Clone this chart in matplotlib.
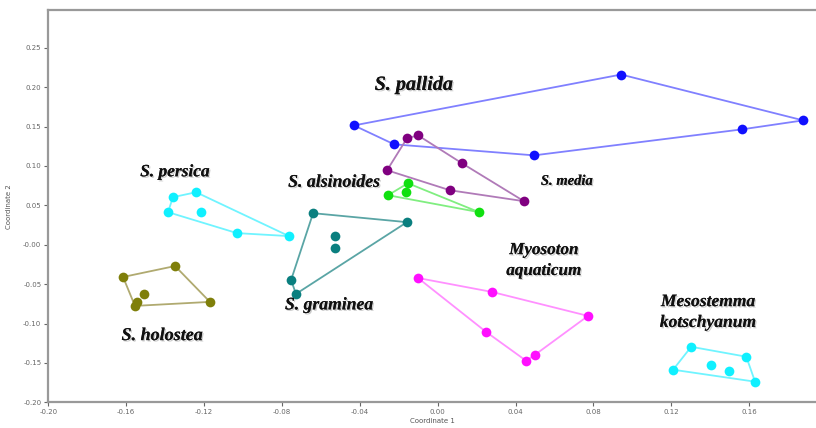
import matplotlib
matplotlib.use("Agg")
import matplotlib.pyplot as plt
import matplotlib.patheffects as pe
import numpy as np

# ---- data (Coordinate 1, Coordinate 2) ----
pallida_x = [-0.0430, 0.0942, 0.1877, 0.1563, 0.0495, -0.0224]
pallida_y = [0.1515, 0.2161, 0.1579, 0.1465, 0.1135, 0.1275]

media_x = [-0.0260, -0.0158, -0.0101, 0.0125, 0.0443, 0.0063]
media_y = [0.0946, 0.1351, 0.1389, 0.1034, 0.0553, 0.0692]

alsinoides_x = [-0.0255, -0.0153, 0.0212, -0.0163]
alsinoides_y = [0.0629, 0.0781, 0.0414, 0.0667]

persica_x = [-0.1360, -0.1241, -0.0764, -0.1031, -0.1385, -0.1216]
persica_y = [0.0604, 0.0667, 0.0110, 0.0148, 0.0414, 0.0414]

graminea_x = [-0.0640, -0.0158, -0.0728, -0.0753, -0.0527, -0.0527]
graminea_y = [0.0401, 0.0287, -0.0624, -0.0447, 0.0110, -0.0042]

holostea_x = [-0.1616, -0.1349, -0.1170, -0.1555, -0.1545, -0.1509]
holostea_y = [-0.0409, -0.0270, -0.0725, -0.0776, -0.0725, -0.0624]

myosoton_x = [-0.0101, 0.0279, 0.0772, 0.0500, 0.0454, 0.0248]
myosoton_y = [-0.0422, -0.0599, -0.0903, -0.1396, -0.1472, -0.1105]

mesostemma_x = [0.1302, 0.1585, 0.1630, 0.1209, 0.1404, 0.1497]
mesostemma_y = [-0.1295, -0.1421, -0.1738, -0.1586, -0.1523, -0.1599]

# number of points forming the convex hull (first n points, in order)
hull_n = {"pallida": 6, "media": 6, "alsinoides": 3, "persica": 5,
          "graminea": 4, "holostea": 4, "myosoton": 6, "mesostemma": 4}

groups = [
    ("pallida", pallida_x, pallida_y, "#1010ff", "#8080ff"),
    ("media", media_x, media_y, "#800080", "#b07ab8"),
    ("alsinoides", alsinoides_x, alsinoides_y, "#10e010", "#80ee80"),
    ("persica", persica_x, persica_y, "#10f0ff", "#70f4ff"),
    ("graminea", graminea_x, graminea_y, "#0a7f7f", "#5aa5a5"),
    ("holostea", holostea_x, holostea_y, "#7f7f0a", "#b0aa70"),
    ("myosoton", myosoton_x, myosoton_y, "#ff10ff", "#ff90ff"),
    ("mesostemma", mesostemma_x, mesostemma_y, "#10f0ff", "#70f4ff"),
]

labels = [
    ("S. pallida", -0.0122, 0.2030, 14.5),
    ("S. persica", -0.1349, 0.0920, 12.5),
    ("S. alsinoides", -0.0533, 0.0794, 12.8),
    ("S. media", 0.0664, 0.0806, 10.5),
    ("Myosoton\naquaticum", 0.0546, -0.0200, 12.3),
    ("Mesostemma\nkotschyanum", 0.1388, -0.0860, 12.6),
    ("S. graminea", -0.0558, -0.0763, 12.7),
    ("S. holostea", -0.1416, -0.1153, 13),
]

fig = plt.figure(figsize=(8.16, 4.28), dpi=100)
ax = fig.add_axes([0.0592, 0.060, 0.9408, 0.9166])

for name, xs, ys, mc, lc in groups:
    n = hull_n[name]
    hx = list(xs[:n]) + [xs[0]]
    hy = list(ys[:n]) + [ys[0]]
    ax.plot(hx, hy, color=lc, lw=1.3, zorder=2)
    ax.plot(xs, ys, "o", color=mc, ms=7, mec="none", zorder=3)

for txt, x, y, fs in labels:
    ax.text(x, y, txt, ha="center", va="center", fontsize=fs,
            family="Liberation Serif", style="italic", weight="bold",
            color="#111111", linespacing=1.4,
            path_effects=[pe.withSimplePatchShadow(offset=(1, -1), shadow_rgbFace="#999999", alpha=0.5), pe.Normal()])

ax.set_xlim(-0.20, 0.1943)
ax.set_ylim(-0.20, 0.298)
ax.set_xticks(np.arange(-0.20, 0.161, 0.04))
ax.set_yticks(np.arange(-0.20, 0.251, 0.05))
ax.set_xticklabels([f"{v:.2f}" for v in np.arange(-0.20, 0.161, 0.04)])
ax.set_yticklabels([f"{v:.2f}" for v in np.arange(-0.20, 0.251, 0.05)])
ax.tick_params(labelsize=5, colors="#666666", length=3, width=0.8, direction="out", pad=2)
ax.set_xlabel("Coordinate 1", fontsize=5, color="#555555", labelpad=2)
ax.set_ylabel("Coordinate 2", fontsize=5, color="#555555", labelpad=8)
for s in ["left", "bottom", "top"]:
    ax.spines[s].set_color("#999999")
    ax.spines[s].set_linewidth(1.6)
ax.spines["right"].set_visible(False)

fig.savefig("out.png", dpi=100)
